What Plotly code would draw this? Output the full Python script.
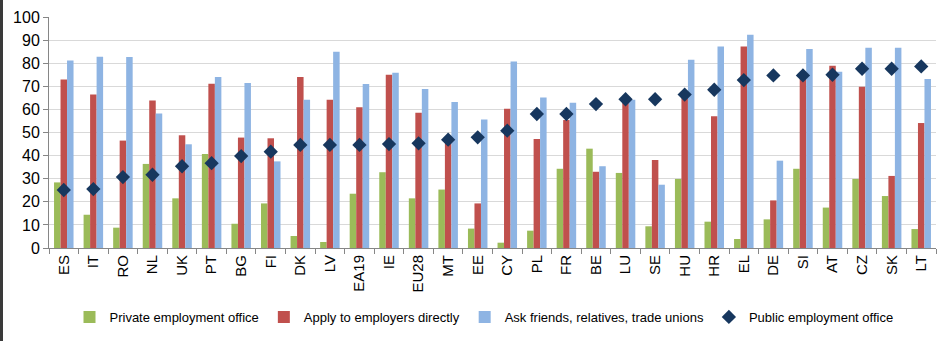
import plotly.graph_objects as go

countries = ["ES", "IT", "RO", "NL", "UK", "PT", "BG", "FI", "DK", "LV", "EA19", "IE", "EU28", "MT",
             "EE", "CY", "PL", "FR", "BE", "LU", "SE", "HU", "HR", "EL", "DE", "SI", "AT", "CZ", "SK", "LT"]

private_office = [28.4, 14.4, 8.8, 36.4, 21.5, 40.7, 10.5, 19.3, 5.2, 2.6, 23.5, 32.8, 21.5, 25.3,
                  8.4, 2.3, 7.5, 34.3, 43.0, 32.5, 9.4, 29.9, 11.4, 3.9, 12.4, 34.3, 17.5, 29.9, 22.5, 8.2]
apply_directly = [72.9, 66.5, 46.5, 63.9, 48.8, 71.1, 47.8, 47.5, 74.0, 64.2, 60.9, 75.0, 58.6, 45.7,
                  19.3, 60.3, 47.2, 55.4, 33.0, 63.8, 38.1, 65.0, 57.0, 87.2, 20.6, 73.4, 78.9, 69.8, 31.2, 54.1]
ask_friends = [81.2, 82.8, 82.7, 58.2, 44.9, 74.0, 71.4, 37.5, 64.2, 85.0, 71.0, 75.9, 68.8, 63.2,
               55.6, 80.7, 65.2, 62.9, 35.4, 64.2, 27.4, 81.5, 87.2, 92.3, 37.8, 86.1, 76.3, 86.7, 86.7, 73.2]
public_office = [25.1, 25.5, 30.7, 31.7, 35.4, 36.7, 39.8, 41.7, 44.6, 44.6, 44.6, 45.0, 45.3, 46.9,
                 47.9, 50.8, 58.0, 58.0, 62.3, 64.4, 64.4, 66.4, 68.5, 72.7, 74.7, 74.7, 75.0, 77.6, 77.6, 78.6]

y_ticks = [0, 10, 20, 30, 40, 50, 60, 70, 80, 90, 100]

FONT = "Liberation Sans, Arial, sans-serif"

W, H = 952, 341
ML, MR, MT, MB = 49, 16, 17, 93
PW, PH = W - ML - MR, H - MT - MB

fig = go.Figure()
fig.add_bar(x=countries, y=private_office, name="Private employment office",
            marker=dict(color="#9BBB59", line=dict(width=0)))
fig.add_bar(x=countries, y=apply_directly, name="Apply to employers directly",
            marker=dict(color="#C0504D", line=dict(width=0)))
fig.add_bar(x=countries, y=ask_friends, name="Ask friends, relatives, trade unions",
            marker=dict(color="#8EB4E3", line=dict(width=0)))
fig.add_scatter(x=countries, y=public_office, name="Public employment office", mode="markers",
                marker=dict(symbol="diamond", size=11, color="#17375E"))

fig.update_layout(
    width=W, height=H,
    margin=dict(l=ML, r=MR, t=MT, b=MB, autoexpand=False),
    paper_bgcolor="white", plot_bgcolor="white",
    barmode="group", bargap=0.34, bargroupgap=0,
    font=dict(family=FONT, size=14, color="#000000"),
    showlegend=True,
    legend=dict(orientation="h", x=(484 - ML) / PW, xanchor="center",
                y=-(317 - MT - PH) / PH, yanchor="middle",
                font=dict(family=FONT, size=13), itemwidth=30,
                traceorder="normal", bgcolor="rgba(0,0,0,0)"),
    xaxis=dict(type="category", showgrid=False, showline=True, linecolor="#868686", linewidth=1,
               ticks="outside", tickson="boundaries", ticklen=5, tickcolor="#868686",
               tickangle=-90, tickfont=dict(family=FONT, size=15), range=[-0.5, len(countries) - 0.5]),
    yaxis=dict(range=[0, 100], tickvals=y_ticks, showgrid=True, gridcolor="#D9D9D9", gridwidth=1,
               showline=True, linecolor="#868686", linewidth=1, ticks="outside", ticklen=5,
               tickcolor="#868686", zeroline=False, tickfont=dict(family=FONT, size=16)),
    shapes=[dict(type="line", xref="paper", yref="paper",
                 x0=-(ML - 1.5) / PW, x1=-(ML - 1.5) / PW,
                 y0=-MB / PH, y1=1 + MT / PH,
                 line=dict(color="#3A3A3A", width=3))],
)

fig.write_html("out.html")
